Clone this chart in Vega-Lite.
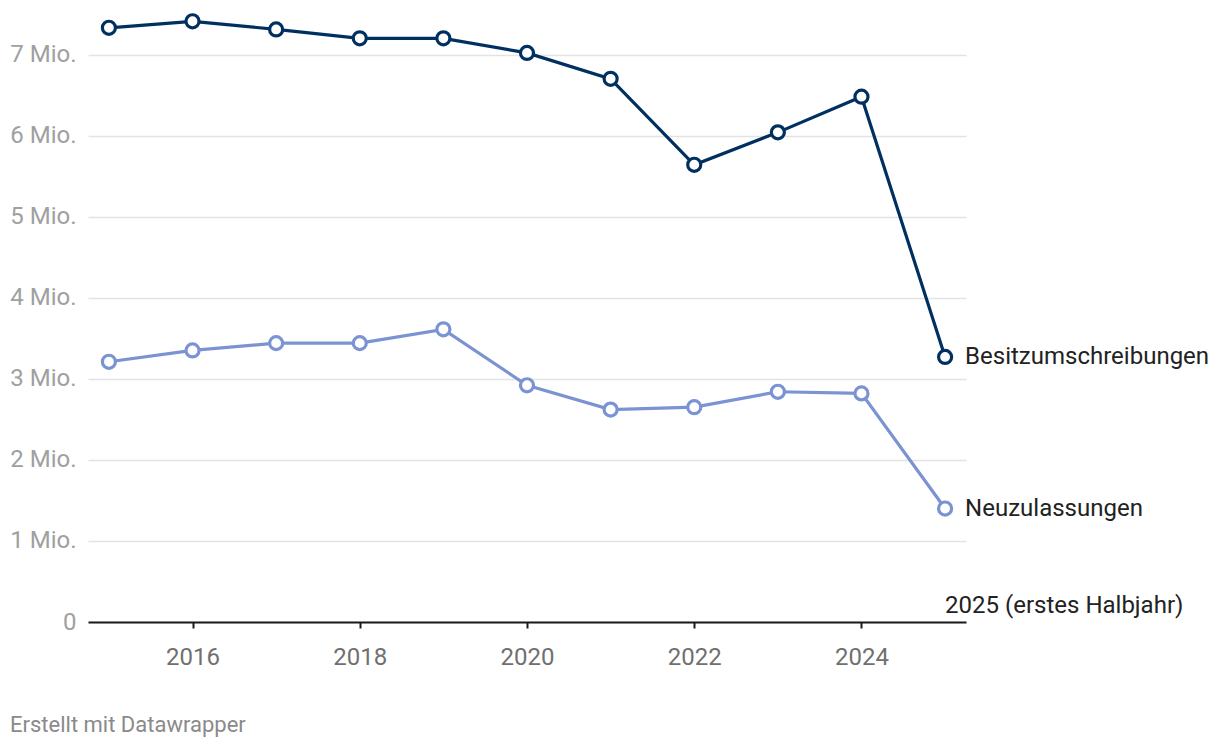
{
  "$schema": "https://vega.github.io/schema/vega-lite/v6.json",
  "autosize": "none",
  "width": 878,
  "height": 608,
  "padding": {"left": 88, "top": 14, "right": 254, "bottom": 126},
  "background": "white",
  "config": {
    "font": "Roboto",
    "view": {"stroke": null}
  },
  "title": {
    "text": "Erstellt mit Datawrapper",
    "orient": "bottom",
    "anchor": "start",
    "frame": "group",
    "dx": -78,
    "offset": 46,
    "fontSize": 22,
    "fontWeight": "normal",
    "color": "#8a8a8a",
    "font": "Roboto"
  },
  "datasets": {
    "main": [
      {"year": 2015, "value": 7.33, "series": "Besitzumschreibungen"},
      {"year": 2016, "value": 7.41, "series": "Besitzumschreibungen"},
      {"year": 2017, "value": 7.31, "series": "Besitzumschreibungen"},
      {"year": 2018, "value": 7.20, "series": "Besitzumschreibungen"},
      {"year": 2019, "value": 7.20, "series": "Besitzumschreibungen"},
      {"year": 2020, "value": 7.02, "series": "Besitzumschreibungen"},
      {"year": 2021, "value": 6.70, "series": "Besitzumschreibungen"},
      {"year": 2022, "value": 5.64, "series": "Besitzumschreibungen"},
      {"year": 2023, "value": 6.04, "series": "Besitzumschreibungen"},
      {"year": 2024, "value": 6.48, "series": "Besitzumschreibungen"},
      {"year": 2025, "value": 3.27, "series": "Besitzumschreibungen"},
      {"year": 2015, "value": 3.21, "series": "Neuzulassungen"},
      {"year": 2016, "value": 3.35, "series": "Neuzulassungen"},
      {"year": 2017, "value": 3.44, "series": "Neuzulassungen"},
      {"year": 2018, "value": 3.44, "series": "Neuzulassungen"},
      {"year": 2019, "value": 3.61, "series": "Neuzulassungen"},
      {"year": 2020, "value": 2.92, "series": "Neuzulassungen"},
      {"year": 2021, "value": 2.62, "series": "Neuzulassungen"},
      {"year": 2022, "value": 2.65, "series": "Neuzulassungen"},
      {"year": 2023, "value": 2.84, "series": "Neuzulassungen"},
      {"year": 2024, "value": 2.82, "series": "Neuzulassungen"},
      {"year": 2025, "value": 1.40, "series": "Neuzulassungen"}
    ],
    "note": [
      {"year": 2025, "value": 0, "label": "2025 (erstes Halbjahr)"}
    ]
  },
  "data": {"name": "main"},
  "encoding": {
    "x": {
      "field": "year",
      "type": "quantitative",
      "scale": {"domain": [2014.75, 2025.25], "nice": false, "zero": false},
      "axis": {
        "title": null,
        "values": [2016, 2018, 2020, 2022, 2024],
        "format": "d",
        "grid": false,
        "domainColor": "#1a1a1a",
        "domainWidth": 2,
        "tickColor": "#1a1a1a",
        "tickWidth": 2,
        "tickSize": 6,
        "labelPadding": 17,
        "labelFontSize": 24,
        "labelColor": "#707070",
        "labelFont": "Roboto"
      }
    },
    "y": {
      "field": "value",
      "type": "quantitative",
      "scale": {"domain": [0, 7.5], "nice": false},
      "axis": {
        "title": null,
        "values": [0, 1, 2, 3, 4, 5, 6, 7],
        "labelExpr": "datum.value == 0 ? '0' : datum.value + ' Mio.'",
        "domain": false,
        "ticks": false,
        "grid": true,
        "gridColor": "#e3e3e3",
        "gridWidth": 1.5,
        "labelPadding": 12,
        "labelFontSize": 24,
        "labelColor": "#a0a0a0",
        "labelFont": "Roboto"
      }
    },
    "color": {
      "field": "series",
      "type": "nominal",
      "scale": {
        "domain": ["Besitzumschreibungen", "Neuzulassungen"],
        "range": ["#00305f", "#7b93d3"]
      },
      "legend": null
    }
  },
  "layer": [
    {
      "mark": {"type": "line", "strokeWidth": 3.2}
    },
    {
      "mark": {"type": "point", "filled": false, "fill": "white", "fillOpacity": 1, "opacity": 1, "strokeWidth": 3.2, "size": 170, "shape": "circle"}
    },
    {
      "transform": [{"filter": "datum.year == 2025"}],
      "mark": {"type": "text", "align": "left", "baseline": "middle", "dx": 20, "fontSize": 24, "color": "#222222", "font": "Roboto"},
      "encoding": {
        "text": {"field": "series"},
        "color": {"value": "#222222"}
      }
    },
    {
      "data": {"name": "note"},
      "mark": {"type": "text", "align": "left", "baseline": "middle", "dx": 0, "dy": -16, "fontSize": 24, "font": "Roboto", "color": "#222222"},
      "encoding": {
        "x": {"field": "year", "type": "quantitative"},
        "y": {"field": "value", "type": "quantitative"},
        "text": {"field": "label"},
        "color": {"value": "#222222"}
      }
    }
  ]
}
